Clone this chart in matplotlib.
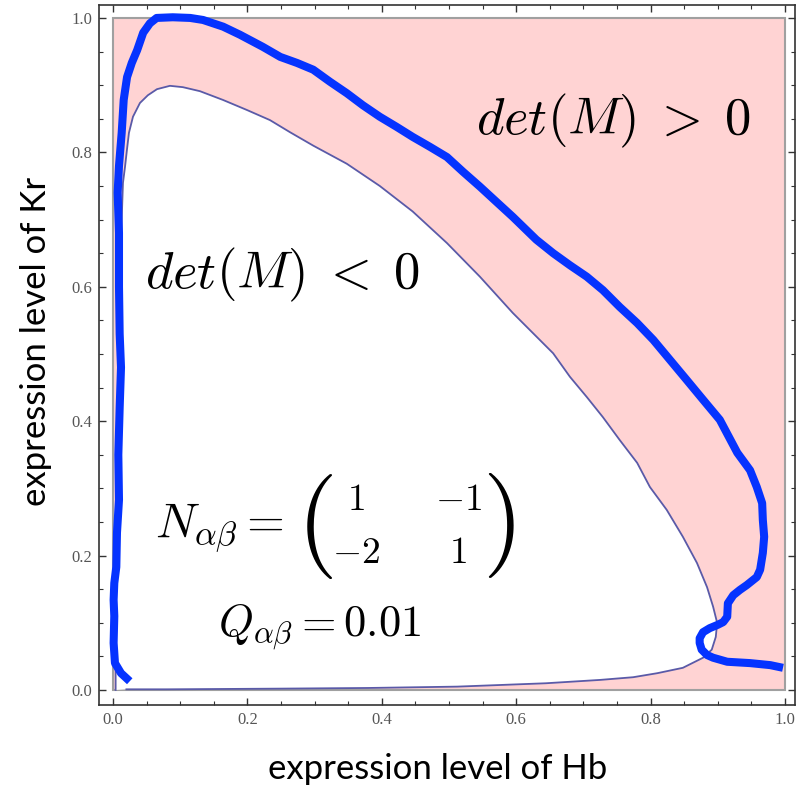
import matplotlib
matplotlib.use("Agg")
import matplotlib.pyplot as plt
from matplotlib.patches import Rectangle, Polygon
from matplotlib.ticker import MultipleLocator
import numpy as np

plt.rcParams['mathtext.fontset'] = 'cm'

# det(M) = 0 contour (Hb, Kr), traced from the origin up the left side,
# over the top and back along the bottom
hb_boundary = [0.004, 0.004, 0.004, 0.006, 0.009, 0.011, 0.013, 0.0149, 0.0179, 0.0208,
               0.0238, 0.0298, 0.0402, 0.052, 0.0655, 0.0848, 0.104, 0.1295, 0.1637, 0.1994,
               0.2336, 0.2634, 0.298, 0.348, 0.397, 0.446, 0.497, 0.546, 0.595, 0.635,
               0.655, 0.680, 0.705, 0.729, 0.754, 0.780, 0.799, 0.824, 0.848, 0.869,
               0.884, 0.893, 0.899, 0.897, 0.891, 0.878, 0.848, 0.810, 0.774, 0.725,
               0.644, 0.512, 0.380, 0.247, 0.080, 0.020]
kr_boundary = [0.000, 0.020, 0.100, 0.300, 0.500, 0.620, 0.700, 0.7545, 0.778, 0.8036,
               0.829, 0.853, 0.8735, 0.885, 0.894, 0.899, 0.897, 0.891, 0.878, 0.863,
               0.848, 0.830, 0.810, 0.783, 0.750, 0.712, 0.665, 0.615, 0.561, 0.521,
               0.501, 0.466, 0.436, 0.406, 0.372, 0.338, 0.302, 0.268, 0.228, 0.189,
               0.153, 0.124, 0.100, 0.079, 0.060, 0.048, 0.033, 0.025, 0.019, 0.015,
               0.010, 0.005, 0.003, 0.002, 0.001, 0.001]

# simulated trajectory through expression space
hb_traj = [0.025, 0.012, 0.003, 0.001, 0.002, 0.001, 0.002, 0.005, 0.006, 0.009,
           0.008, 0.010, 0.012, 0.010, 0.009, 0.009, 0.007, 0.009, 0.013, 0.016,
           0.021, 0.028, 0.036, 0.045, 0.055, 0.065, 0.089, 0.115, 0.134, 0.164,
           0.189, 0.223, 0.249, 0.274, 0.298, 0.323, 0.348, 0.372, 0.397, 0.422,
           0.446, 0.472, 0.497, 0.521, 0.546, 0.571, 0.595, 0.630, 0.655, 0.680,
           0.705, 0.729, 0.754, 0.780, 0.804, 0.829, 0.854, 0.878, 0.903, 0.929,
           0.948, 0.958, 0.966, 0.967, 0.969, 0.967, 0.963, 0.958, 0.943, 0.933,
           0.923, 0.915, 0.914, 0.908, 0.900, 0.888, 0.878, 0.873, 0.873, 0.876,
           0.884, 0.893, 0.914, 0.948, 0.978, 0.997]
kr_traj = [0.013, 0.025, 0.040, 0.070, 0.110, 0.134, 0.159, 0.183, 0.234, 0.283,
           0.350, 0.420, 0.480, 0.530, 0.600, 0.680, 0.740, 0.780, 0.829, 0.878,
           0.912, 0.933, 0.952, 0.978, 0.992, 1.000, 1.001, 1.000, 0.997, 0.987,
           0.975, 0.957, 0.942, 0.933, 0.923, 0.905, 0.888, 0.870, 0.853, 0.838,
           0.823, 0.808, 0.793, 0.771, 0.749, 0.726, 0.704, 0.670, 0.650, 0.632,
           0.615, 0.595, 0.570, 0.546, 0.521, 0.491, 0.461, 0.432, 0.402, 0.353,
           0.327, 0.302, 0.278, 0.253, 0.228, 0.204, 0.179, 0.168, 0.156, 0.149,
           0.141, 0.129, 0.109, 0.101, 0.097, 0.092, 0.086, 0.077, 0.070, 0.060,
           0.052, 0.048, 0.042, 0.040, 0.037, 0.033]

# interaction matrix N and coupling Q
n_matrix = [['1', '-1'], ['-2', '1']]
q_value = '0.01'

ticks = [0.0, 0.2, 0.4, 0.6, 0.8, 1.0]
tick_labels = ['0.0', '0.2', '0.4', '0.6', '0.8', '1.0']

fig = plt.figure(figsize=(8.02, 7.89), dpi=100)
ax = fig.add_axes([0.1234, 0.1065, 0.8679, 0.8872])

# det(M) > 0 everywhere in the unit square except inside the contour
ax.add_patch(Rectangle((0, 0), 1, 1, facecolor='#ffd3d3', edgecolor='#a0a0a0',
                       linewidth=1.5, zorder=1))
ax.add_patch(Polygon(np.column_stack([hb_boundary, kr_boundary]), closed=True,
                     facecolor='white', edgecolor='none', zorder=2))
ax.plot(hb_boundary, kr_boundary, color='#5a5aa8', linewidth=1.3, zorder=3)
ax.plot(hb_traj, kr_traj, color='#0533ff', linewidth=5.8, solid_capstyle='butt',
        solid_joinstyle='round', zorder=4)

ax.text(0.540, 0.826, r'$det(M)\;>\;0$', fontsize=38, ha='left', va='baseline', zorder=5)
ax.text(0.048, 0.598, r'$det(M)\;<\;0$', fontsize=38, ha='left', va='baseline', zorder=5)

# N_ab = ( matrix ), entries laid out as a 2x2 grid
ax.text(0.0625, 0.226, r'$N_{\alpha\beta} =$', fontsize=35, ha='left', va='baseline', zorder=5)
ax.text(0.3006, 0.244, r'$($', fontsize=76, ha='center', va='center', zorder=5)
ax.text(0.573, 0.244, r'$)$', fontsize=76, ha='center', va='center', zorder=5)
col_x = [0.3616, 0.5134]
row_y = [0.2679, 0.189]
for i, row in enumerate(n_matrix):
    for j, entry in enumerate(row):
        ax.text(col_x[j], row_y[i], '$' + entry + '$', fontsize=27,
                ha='center', va='baseline', zorder=5)

ax.text(0.156, 0.079, r'$Q_{\alpha\beta} = ' + q_value + '$', fontsize=32, ha='left',
        va='baseline', zorder=5)

ax.set_xlim(-0.0208, 1.0149)
ax.set_ylim(-0.0223, 1.0193)
ax.set_xticks(ticks)
ax.set_xticklabels(tick_labels)
ax.set_yticks(ticks)
ax.set_yticklabels(tick_labels)
ax.xaxis.set_minor_locator(MultipleLocator(0.05))
ax.yaxis.set_minor_locator(MultipleLocator(0.05))
ax.tick_params(which='both', direction='in', top=True, right=True, color='#333333')
ax.tick_params(which='major', length=5, width=1.0, labelsize=12, labelcolor='#555555', pad=5)
ax.tick_params(which='minor', length=3, width=0.8)
for lab in ax.get_xticklabels() + ax.get_yticklabels():
    lab.set_family('Liberation Serif')
for sp in ax.spines.values():
    sp.set_color('#333333')
    sp.set_linewidth(1.2)

ax.set_xlabel('expression level of Hb', fontsize=25, family='Lato', labelpad=18)
ax.set_ylabel('expression level of Kr', fontsize=25, family='Lato', labelpad=14)
ax.xaxis.label.set_x(0.486)
ax.yaxis.label.set_y(0.519)

fig.savefig('out.png', dpi=100)
